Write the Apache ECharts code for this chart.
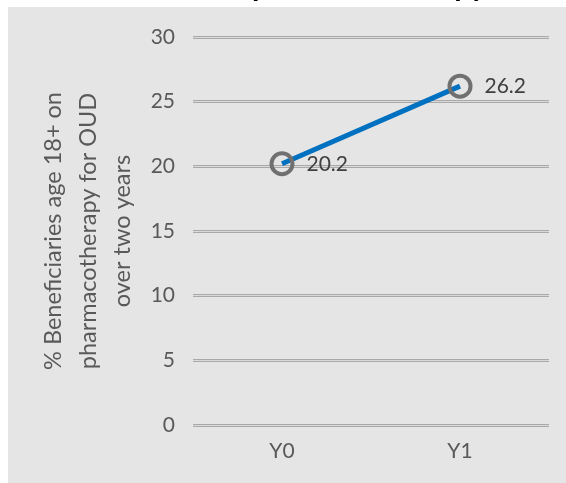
<!DOCTYPE html>
<html>
<head>
<meta charset="utf-8">
<script src="https://cdn.jsdelivr.net/npm/echarts@6/dist/echarts.min.js"></script>
<style>
  html, body { margin: 0; padding: 0; background: #fff; }
  #chart { width: 566px; height: 483px; }
</style>
</head>
<body>
<div id="chart"></div>
<script>
// data
const years = ['Y0', 'Y1']
const pctOnTherapy = [20.2, 26.2]
const yTicks = [0, 5, 10, 15, 20, 25, 30]
const yName = '% Beneficiaries age 18+ on\npharmacotherapy for OUD\nover two years'
const titleText = 'pharmacotherapy'

const font = 'Lato, "Open Sans", sans-serif'
const myChart = echarts.init(document.getElementById('chart'), null, { renderer: 'canvas' })

const yMin = yTicks[0]
const yMax = yTicks[yTicks.length - 1]
const yStep = yTicks[1] - yTicks[0]

var option = {
    backgroundColor: '#fff',
    animation: false,
    graphic: [
        {
            type: 'rect',
            left: 8, top: 7,
            shape: { width: 558, height: 476 },
            style: { fill: '#e5e5e5' },
            z: -10
        },
        {
            // title sits above the crop, only its descenders show
            type: 'text',
            left: 252, top: -29,
            style: { text: titleText, font: 'bold 30px ' + font, fill: '#000' },
            z: -20
        }
    ],
    grid: { left: 193, right: 17, top: 37, bottom: 58 },
    xAxis: {
        type: 'category',
        data: years,
        axisLine: { show: false },
        axisTick: { show: false },
        axisLabel: { color: '#595959', fontSize: 21, fontFamily: font, margin: 16 }
    },
    yAxis: [
        {
            type: 'value',
            min: yMin, max: yMax, interval: yStep,
            name: yName,
            nameLocation: 'middle',
            nameGap: 48,
            nameTextStyle: { color: '#595959', fontSize: 23.5, fontFamily: font, lineHeight: 34.5, align: 'center' },
            axisLabel: { color: '#595959', fontSize: 21, fontFamily: font, margin: 18 },
            splitLine: { lineStyle: { color: '#a9a9a9', width: 3 } }
        },
        {
            type: 'value',
            min: yMin, max: yMax, interval: yStep,
            position: 'left',
            axisLabel: { show: false },
            splitLine: { lineStyle: { color: '#dadada', width: 1 } }
        }
    ],
    series: [
        {
            type: 'line',
            data: pctOnTherapy,
            yAxisIndex: 0,
            symbol: 'circle',
            symbolSize: 21,
            lineStyle: { color: '#0070c0', width: 5 },
            itemStyle: { color: 'transparent', borderColor: '#707070', borderWidth: 4 },
            label: {
                show: true,
                position: 'right',
                distance: 12,
                color: '#404040',
                fontSize: 21,
                fontFamily: font,
                formatter: function (p) { return p.value.toFixed(1) }
            },
            z: 5
        }
    ]
};

myChart.setOption(option);
</script>
</body>
</html>
